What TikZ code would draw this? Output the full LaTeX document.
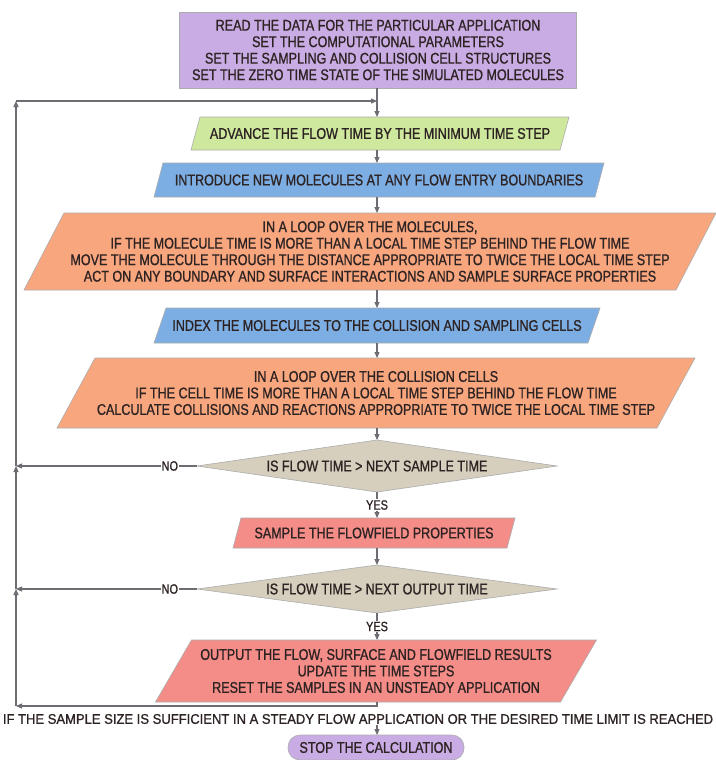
\documentclass[tikz,border=0pt]{standalone}
\usepackage{fontspec}
\setmainfont{Liberation Sans}[FakeStretch=0.81,FakeBold=1]
\newfontfamily\widefont{Liberation Sans}[FakeStretch=0.93,FakeBold=1]
\usetikzlibrary{arrows.meta,backgrounds,calc}
\definecolor{cpurple}{RGB}{202,172,228}
\definecolor{cgreen}{RGB}{206,232,158}
\definecolor{cblue}{RGB}{124,174,228}
\definecolor{corange}{RGB}{248,166,126}
\definecolor{ctan}{RGB}{214,207,190}
\definecolor{cpink}{RGB}{244,140,136}
\definecolor{ctext}{RGB}{45,35,35}
\definecolor{cline}{RGB}{110,108,114}
\tikzset{
  txt/.style={inner sep=0pt, outer sep=0pt, align=center, font=\fontsize{15.5}{16.5}\selectfont, text=ctext},
  conn/.style={draw=cline, line width=1.1pt, -{Triangle[length=6pt,width=5pt]}},
  lab/.style={fill=white, inner sep=1pt, font=\fontsize{13.5}{13.5}\selectfont, text=ctext},
  border/.style={draw=gray!65, line width=0.6pt},
}
\newcommand\parabg[3]{\begin{pgfonlayer}{background}\filldraw[border, fill=#3] ([xshift=-#2]#1.south west) -- ([xshift=-#2]#1.south east) -- ([xshift=#2]#1.north east) -- ([xshift=#2]#1.north west) -- cycle;\end{pgfonlayer}}
\newcommand\diambg[2]{\begin{pgfonlayer}{background}\filldraw[border, fill=#2] (#1.north) -- (#1.east) -- (#1.south) -- (#1.west) -- cycle;\end{pgfonlayer}}
\begin{document}
\begin{tikzpicture}[x=1pt,y=-1pt]
\begin{pgfonlayer}{background}
\fill[white] (0,0) rectangle (715,760);
\end{pgfonlayer}
\useasboundingbox (0,0) rectangle (715,760);
\coordinate (mx) at (377,0);

\node[txt, border, fill=cpurple, minimum width=397, minimum height=76] (init) at (378,50)
  {READ THE DATA FOR THE PARTICULAR APPLICATION\\SET THE COMPUTATIONAL PARAMETERS\\SET THE SAMPLING AND COLLISION CELL STRUCTURES\\SET THE ZERO TIME STATE OF THE SIMULATED MOLECULES};

\node[txt, minimum width=369, minimum height=33] (adv) at (380,133.5)
  {ADVANCE THE FLOW TIME BY THE MINIMUM TIME STEP};
\parabg{adv}{4.5}{cgreen}

\node[txt, minimum width=441, minimum height=34] (intro) at (379,180)
  {INTRODUCE NEW MOLECULES AT ANY FLOW ENTRY BOUNDARIES};
\parabg{intro}{4.5}{cblue}

\node[txt, minimum width=652, minimum height=77] (move) at (370,251.5)
  {IN A LOOP OVER THE MOLECULES,\\IF THE MOLECULE TIME IS MORE THAN A LOCAL TIME STEP BEHIND THE FLOW TIME\\MOVE THE MOLECULE THROUGH THE DISTANCE APPROPRIATE TO TWICE THE LOCAL TIME STEP\\ACT ON ANY BOUNDARY AND SURFACE INTERACTIONS AND SAMPLE SURFACE PROPERTIES};
\parabg{move}{20}{corange}

\node[txt, minimum width=434, minimum height=35] (index) at (377,325.5)
  {INDEX THE MOLECULES TO THE COLLISION AND SAMPLING CELLS};
\parabg{index}{6}{cblue}

\node[txt, minimum width=600, minimum height=70] (coll) at (376,393)
  {IN A LOOP OVER THE COLLISION CELLS\\IF THE CELL TIME IS MORE THAN A LOCAL TIME STEP BEHIND THE FLOW TIME\\CALCULATE COLLISIONS AND REACTIONS APPROPRIATE TO TWICE THE LOCAL TIME STEP};
\parabg{coll}{19}{corange}

\node[txt, minimum width=360, minimum height=52] (dsample) at (377,466)
  {IS FLOW TIME > NEXT SAMPLE TIME};
\diambg{dsample}{ctan}

\node[txt, minimum width=274, minimum height=30] (sample) at (374,533)
  {SAMPLE THE FLOWFIELD PROPERTIES};
\parabg{sample}{4}{cpink}

\node[txt, minimum width=360, minimum height=48] (doutput) at (377,589)
  {IS FLOW TIME > NEXT OUTPUT TIME};
\diambg{doutput}{ctan}

\node[txt, minimum width=405, minimum height=62] (output) at (376,671)
  {OUTPUT THE FLOW, SURFACE AND FLOWFIELD RESULTS\\UPDATE THE TIME STEPS\\RESET THE SAMPLES IN AN UNSTEADY APPLICATION};
\parabg{output}{18}{cpink}

\node[txt, inner sep=1pt, font=\widefont\fontsize{14}{14}\selectfont] (cond) at (358,719)
  {IF THE SAMPLE SIZE IS SUFFICIENT IN A STEADY FLOW APPLICATION OR THE DESIRED TIME LIMIT IS REACHED};

\node[txt, border, fill=cpurple, rounded corners=12pt, minimum width=176, minimum height=25] (stop) at (376,747.5)
  {STOP THE CALCULATION};

% left return line
\coordinate (lb) at (16,706);
\coordinate (ln2) at (16,589);
\coordinate (ln1) at (16,466);
\coordinate (lt) at (16,101);
\coordinate (mt) at (377,101);

% main flow
\draw[conn] (init.south -| mx) -- (adv.north -| mx);
\draw[conn] (adv.south -| mx) -- (intro.north -| mx);
\draw[conn] (intro.south -| mx) -- (move.north -| mx);
\draw[conn] (move.south -| mx) -- (index.north -| mx);
\draw[conn] (index.south -| mx) -- (coll.north -| mx);
\draw[conn] (coll.south -| mx) -- (dsample.north -| mx);
\draw[conn] (dsample.south) -- node[lab]{YES} (sample.north -| mx);
\draw[conn] (sample.south -| mx) -- (doutput.north -| mx);
\draw[conn] (doutput.south) -- node[lab]{YES} (output.north -| mx);
\draw[conn] (output.south -| mx) |- (lb);
\draw[conn] (cond.south -| mx) -- (stop.north -| mx);

% NO branches
\draw[conn] (dsample.west) -- node[lab, pos=0.15]{NO} (ln1);
\draw[conn] (doutput.west) -- node[lab, pos=0.15]{NO} (ln2);

% return path
\draw[conn] (lb) -- (ln2);
\draw[conn] (ln2) -- (ln1);
\draw[conn] (ln1) -- (lt);
\draw[conn] (lt) -- (mt);
\end{tikzpicture}
\end{document}
